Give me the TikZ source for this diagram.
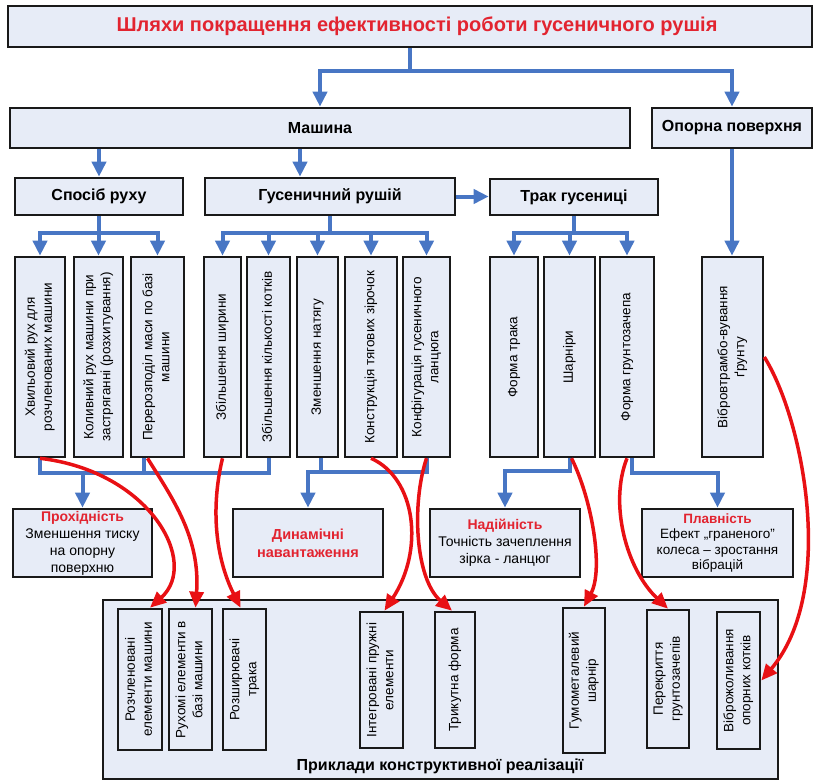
\documentclass[tikz,border=0pt]{standalone}
\usepackage{fontspec}
\setmainfont{Liberation Sans}
\usepackage{graphicx}
\usetikzlibrary{arrows.meta, positioning}

\definecolor{boxfill}{RGB}{231,236,247}
\definecolor{linkblue}{RGB}{72,118,196}
\definecolor{linkred}{RGB}{232,16,20}
\definecolor{headred}{RGB}{226,36,48}

\newcommand{\vtext}[1]{\rotatebox{90}{\begin{tabular}{@{}c@{}}#1\end{tabular}}}

\begin{document}
\begin{tikzpicture}[x=1pt, y=-1pt,
		frame/.style={draw=black!90, line width=2.6pt, fill=boxfill, inner sep=0pt, align=center},
		headframe/.style={frame, font=\fontsize{16}{19}\selectfont\bfseries},
		factorbox/.style={frame, minimum height=200pt, font=\fontsize{13.5}{17}\selectfont},
		samplebox/.style={frame, minimum height=141pt, font=\fontsize{13.5}{17}\selectfont},
		effectbox/.style={frame, minimum width=150pt, minimum height=68pt, font=\fontsize{14}{17}\selectfont},
		bluebus/.style={linkblue, line width=4pt},
		bluearrow/.style={bluebus, -{Triangle[length=15pt,width=14pt]}},
		redarrow/.style={linkred, line width=3.5pt, -{Triangle[length=16pt,width=14pt]}}
	]
	\useasboundingbox (0,0) rectangle (814,781);
	
	% goal
	\node[frame, minimum width=804pt, minimum height=41pt, font=\fontsize{20}{24}\selectfont\bfseries, text=headred] (goal) at (410,26.5) {\hspace*{14pt}Шляхи покращення ефективності роботи гусеничного рушія};
	
	% level 1
	\node[headframe, minimum width=620pt, minimum height=40pt] (mash) at (320,128) {Машина};
	\node[headframe, minimum width=160pt, minimum height=40pt] (opor) at (732,128) {Опорна поверхня};
	
	% level 2
	\node[headframe, minimum width=168pt, minimum height=37pt] (sposib) at (99,196.5) {Спосіб руху};
	\node[headframe, minimum width=250pt, minimum height=37pt] (rush) at (330,196.5) {Гусеничний рушій};
	\node[headframe, minimum width=168pt, minimum height=36pt] (trak) at (574,197) {Трак гусениці};
	
	% factors
	\node[factorbox, minimum width=50pt] (hvyl) at (40,357) {\vtext{Хвильовий рух для\\розчленованих машини}};
	\node[factorbox, minimum width=49pt] (kolyv) at (98.5,357) {\vtext{Коливний рух машини при\\застряганні (розхитування)}};
	\node[factorbox, minimum width=53pt] (pererozp) at (157.5,357) {\vtext{Перерозподіл маси по базі\\машини}};
	\node[factorbox, minimum width=37pt] (shyr) at (222.5,357) {\vtext{Збільшення ширини}};
	\node[factorbox, minimum width=43pt] (kotk) at (268.5,357) {\vtext{Збільшення кількості котків}};
	\node[factorbox, minimum width=41pt] (natyag) at (317.5,357) {\vtext{Зменшення натягу}};
	\node[factorbox, minimum width=52pt] (zirk) at (371,357) {\vtext{Конструкція тягових зірочок}};
	\node[factorbox, minimum width=47pt] (lanc) at (426.5,357) {\vtext{Конфігурація гусеничного\\ланцюга}};
	\node[factorbox, minimum width=48pt] (formtr) at (514,357) {\vtext{Форма трака}};
	\node[factorbox, minimum width=51pt] (sharn) at (569.5,357) {\vtext{Шарніри}};
	\node[factorbox, minimum width=54pt] (grunt) at (627,357) {\vtext{Форма грунтозачепа}};
	\node[factorbox, minimum width=61pt] (vibr) at (732.5,357) {\vtext{Вібровтрамбо-вування\\ґрунту}};
	
	% effects
	\node[effectbox, minimum width=139pt] (prohid) at (82.5,543) {{\color{headred}\bfseries Прохідність}\\Зменшення тиску\\на опорну\\поверхню};
	\node[effectbox, font=\fontsize{14.5}{18}\selectfont\bfseries, text=headred] (dyn) at (308,543) {Динамічні\\навантаження};
	\node[effectbox] (nad) at (505,543) {{\color{headred}\bfseries Надійність}\\Точність зачеплення\\зірка - ланцюг};
	\node[effectbox, minimum width=151pt, font=\fontsize{13.5}{15.5}\selectfont] (plav) at (717.5,543) {{\color{headred}\bfseries Плавність}\\Ефект „граненого”\\колеса – зростання\\вібрацій};
	
	% examples
	\node[frame, minimum width=675pt, minimum height=179pt] (prykl) at (440.5,689.5) {};
	\node[font=\fontsize{16}{19}\selectfont\bfseries] (prykltxt) at (440,766) {Приклади конструктивної реалізації};
	\node[samplebox, minimum width=44pt] (rozchl) at (140,679.5) {\vtext{Розчленовані\\елементи машини}};
	\node[samplebox, minimum width=43pt] (rukh) at (190.5,679.5) {\vtext{Рухомі елементи в\\базі машини}};
	\node[samplebox, minimum width=43pt] (rozshyr) at (244.5,679.5) {\vtext{Розширювачі\\трака}};
	\node[samplebox, minimum width=43pt, minimum height=136pt] (integ) at (381.5,680) {\vtext{Інтегровані пружні\\елементи}};
	\node[samplebox, minimum width=40pt, minimum height=136pt] (tryk) at (455,680) {\vtext{Трикутна форма}};
	\node[samplebox, minimum width=42pt, minimum height=145pt] (gum) at (584,680.5) {\vtext{Гумометалевий\\шарнір}};
	\node[samplebox, minimum width=42pt, minimum height=138pt] (perekr) at (668,679) {\vtext{Перекриття\\грунтозачепів}};
	\node[samplebox, minimum width=43pt, minimum height=137pt] (vibrokot) at (738.5,680.5) {\vtext{Віброжоливання\\опорних котків}};
	
	%blue links, top
	\draw[bluebus] (goal.south) -- ++(0,23) coordinate (g0);
	\draw[bluearrow] (g0) -| (mash.north);
	\draw[bluearrow] (g0) -| (opor.north);
	\draw[bluearrow] (mash.south -| sposib.north) -- (sposib.north);
	\coordinate (rtop) at ([xshift=-30pt]rush.north);
	\draw[bluearrow] (mash.south -| rtop) -- (rtop);
	\draw[bluearrow] (rush.east) -- (rush.east -| trak.west);
	
	%blue links to factors
	\draw[bluebus] (sposib.south) -- ++(0,17) coordinate (s0);
	\foreach \n in {hvyl, kolyv, pererozp} \draw[bluearrow] (s0) -| (\n.north);
	\draw[bluebus] (rush.south) -- ++(0,17) coordinate (r0);
	\foreach \n in {shyr, kotk, natyag, zirk, lanc} \draw[bluearrow] (r0) -| (\n.north);
	\draw[bluebus] (trak.south) -- ++(0,17) coordinate (t0);
	\foreach \n in {formtr, sharn, grunt} \draw[bluearrow] (t0) -| (\n.north);
	\draw[bluearrow] (opor.south) -- (opor.south |- vibr.north);
	
	%blue links to effects
	\draw[bluebus] (hvyl.south) -- ++(0,15) coordinate (e1) -| (kotk.south);
	\draw[bluebus] ([xshift=-14pt]pererozp.south) -- ([xshift=-14pt]pererozp.south |- e1);
	\draw[bluearrow] (prohid.north |- e1) -- (prohid.north);
	\draw[bluebus] ([xshift=3pt]natyag.south) -- ++(0,14) coordinate (e2);
	\draw[bluearrow] (lanc.south) -- (lanc.south |- e2) -| (dyn.north);
	\draw[bluearrow] (sharn.south) -- ++(0,13) -| (nad.north);
	\draw[bluearrow] ([xshift=5pt]grunt.south) -- ++(0,15) -| (plav.north);
	
	%red links to examples
	\draw[redarrow] (hvyl.south) .. controls +(110,13) and +(50,-45) .. ([xshift=10pt]rozchl.north);
	\draw[redarrow] ([xshift=-10pt]pererozp.south) .. controls +(25,40) and +(5,-70) .. ([xshift=5pt]rukh.north);
	\draw[redarrow] (shyr.south) .. controls +(-12,50) and +(-25,-50) .. ([xshift=-4pt]rozshyr.north);
	\draw[redarrow] (zirk.south) .. controls +(45,20) and +(40,-61) .. ([xshift=3pt]integ.north);
	\draw[redarrow] (lanc.south) .. controls +(-15,45) and +(-37,-32) .. ([xshift=-3pt]tryk.north);
	\draw[redarrow] ([xshift=2pt]sharn.south) .. controls +(20,40) and +(20,-38) .. (gum.north);
	\draw[redarrow] (grunt.south) .. controls +(-18,45) and +(-42,-40) .. (perekr.north);
	\draw[redarrow] (vibr.east) .. controls +(40,64) and +(75,-88) .. (vibrokot.east);
\end{tikzpicture}
\end{document}
